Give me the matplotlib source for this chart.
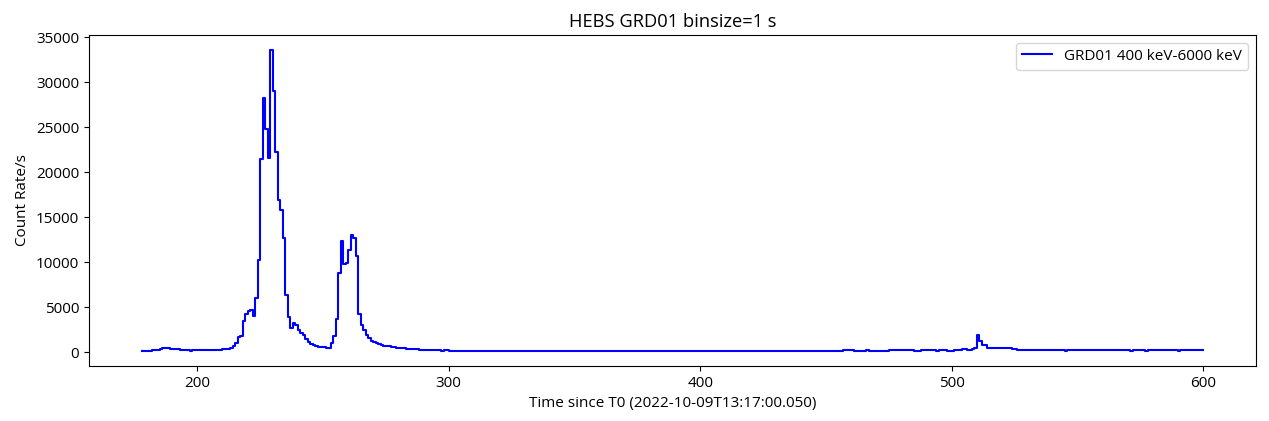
import matplotlib
matplotlib.use("Agg")
import matplotlib.pyplot as plt

# light curve: bin start time (s) and count rate (counts/s)
seg_start = [178, 182, 185, 186, 189, 191, 193, 197, 198, 208, 210, 211, 213, 214, 215,
             216, 217, 218, 219, 220, 221, 222, 223, 224, 225, 226, 227, 228, 229, 230,
             231, 232, 233, 234, 235, 236, 237, 238, 239, 240, 241, 242, 243, 244, 245,
             246, 247, 248, 250, 251, 252, 253, 254, 255, 256, 257, 258, 259, 260, 261,
             262, 263, 264, 265, 266, 267, 268, 269, 270, 271, 272, 273, 274, 275, 276,
             277, 278, 279, 280, 281, 282, 283, 284, 285, 286, 287, 288, 290, 291, 292,
             293, 295, 297, 298, 299, 300,
             457, 461, 466, 467, 475, 485, 488, 494, 495, 498, 501, 504, 506, 508, 509,
             510, 511, 512, 514, 524, 526, 540, 545, 546, 571, 572, 577, 578, 590, 591]
seg_rate = [150, 250, 400, 500, 400, 350, 300, 200, 250, 300, 350, 400, 500, 700, 1000,
            1700, 1800, 3500, 4300, 4600, 4700, 4000, 6000, 10300, 21500, 28300, 24800, 21600, 33600, 29100,
            22300, 16900, 15800, 12700, 6400, 3900, 2700, 3300, 3000, 2500, 2200, 1900, 1500, 1200, 900,
            800, 700, 600, 550, 500, 450, 1000, 1800, 3700, 8800, 12400, 9800, 9900, 11400, 13000,
            12700, 10700, 4300, 3000, 2500, 1900, 1600, 1300, 1100, 1000, 900, 800, 750, 700, 650,
            600, 550, 500, 480, 450, 430, 400, 380, 350, 330, 320, 300, 280, 270, 260,
            250, 240, 180, 250, 220, 180,
            300, 170, 300, 170, 300, 170, 300, 170, 300, 170, 300, 350, 250, 350, 500,
            1870, 1300, 800, 500, 380, 300, 250, 170, 300, 170, 300, 170, 300, 170, 300]
t_end = 600

plt.rcParams['font.family'] = ['Open Sans', 'DejaVu Sans']
plt.rcParams['font.size'] = 11

fig = plt.figure(figsize=(12.69, 4.21), dpi=100)
ax = fig.add_axes([0.0701, 0.1306, 0.9197, 0.7863])

edges = seg_start + [t_end]
ax.step(edges, seg_rate + [seg_rate[-1]], where='post', color='blue', lw=1.5,
        label='GRD01 400 keV-6000 keV')

ax.set_title('HEBS GRD01 binsize=1 s')
ax.set_xlabel('Time since T0 (2022-10-09T13:17:00.050)')
ax.set_ylabel('Count Rate/s')
ax.legend(loc='upper right')

fig.savefig('out.png', dpi=100)
